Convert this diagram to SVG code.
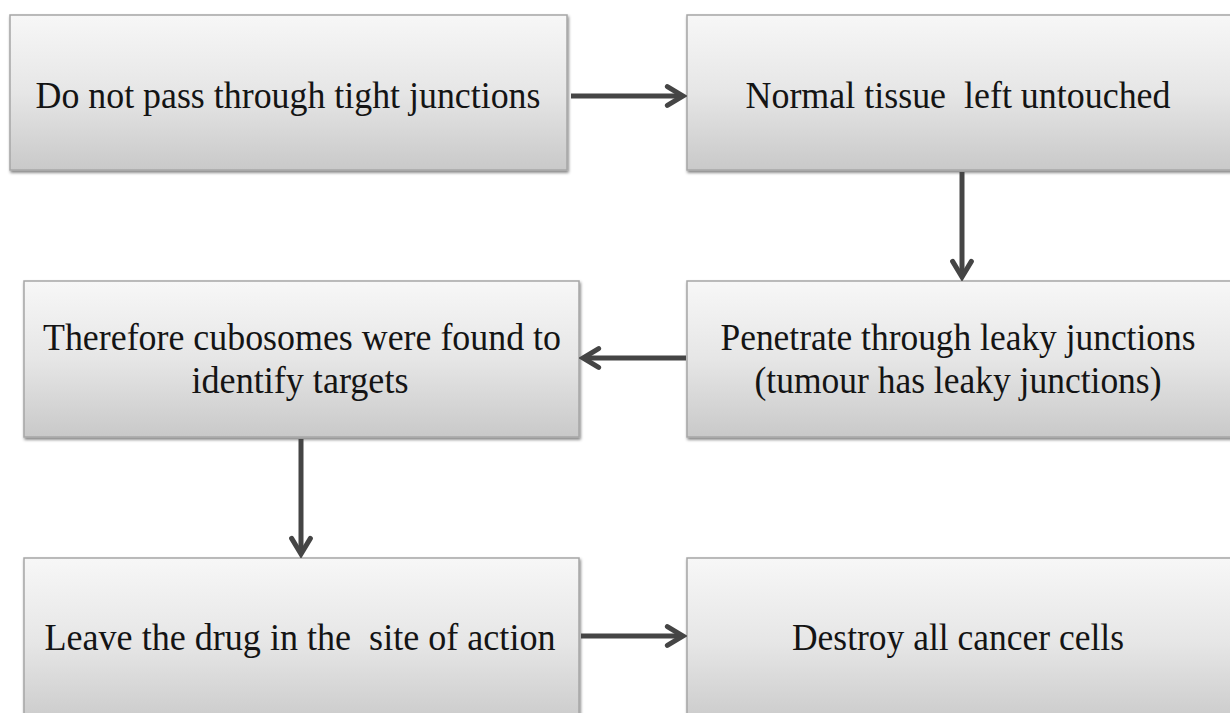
<svg xmlns="http://www.w3.org/2000/svg" width="1230" height="713" viewBox="0 0 1230 713">
<defs>
<linearGradient id="g" x1="0" y1="0" x2="0" y2="1">
<stop offset="0" stop-color="#f7f7f7"/>
<stop offset="0.5" stop-color="#e6e6e6"/>
<stop offset="1" stop-color="#c9c9c9"/>
</linearGradient>
<filter id="sh" x="-5%" y="-5%" width="110%" height="115%">
<feGaussianBlur in="SourceAlpha" stdDeviation="1.5"/>
<feOffset dx="1" dy="2" result="b"/>
<feComponentTransfer><feFuncA type="linear" slope="0.5"/></feComponentTransfer>
<feMerge><feMergeNode/><feMergeNode in="SourceGraphic"/></feMerge>
</filter>
<marker id="ah" viewBox="0 0 12 12" refX="10" refY="6" markerWidth="5" markerHeight="5" orient="auto" markerUnits="strokeWidth">
<path d="M2.5,1.5 L10,6 L2.5,10.5" fill="none" stroke="#454545" stroke-width="2.4" stroke-linecap="round" stroke-linejoin="miter"/>
</marker>
</defs>
<style>
.box{fill:url(#g);stroke:#a6a6a6;stroke-width:1.5;filter:url(#sh)}
.t{font-family:"Liberation Serif","Times New Roman",serif;font-size:37px;fill:#141414;text-anchor:middle}
.c{fill:none;stroke:#454545;stroke-width:5;marker-end:url(#ah)}
</style>
<rect width="1230" height="713" fill="#ffffff"/>
<g id="n1"><rect class="box" x="10" y="15" width="557" height="155"/><text class="t" x="288" y="108" textLength="505" lengthAdjust="spacingAndGlyphs">Do not pass through tight junctions</text></g>
<g id="n2"><rect class="box" x="687" y="15" width="550" height="155"/><text class="t" x="958" y="108" textLength="425" lengthAdjust="spacingAndGlyphs" xml:space="preserve">Normal tissue  left untouched</text></g>
<g id="n3"><rect class="box" x="24" y="281" width="555" height="156"/><text class="t" x="302" y="350" textLength="518" lengthAdjust="spacingAndGlyphs">Therefore cubosomes were found to</text><text class="t" x="300" y="393" textLength="217" lengthAdjust="spacingAndGlyphs">identify targets</text></g>
<g id="n4"><rect class="box" x="687" y="281" width="550" height="156"/><text class="t" x="958" y="350" textLength="475" lengthAdjust="spacingAndGlyphs">Penetrate through leaky junctions</text><text class="t" x="958" y="393" textLength="407" lengthAdjust="spacingAndGlyphs">(tumour has leaky junctions)</text></g>
<g id="n5"><rect class="box" x="24" y="558" width="555" height="170"/><text class="t" x="300" y="650" textLength="511" lengthAdjust="spacingAndGlyphs" xml:space="preserve">Leave the drug in the  site of action</text></g>
<g id="n6"><rect class="box" x="687" y="558" width="550" height="170"/><text class="t" x="958" y="650" textLength="332" lengthAdjust="spacingAndGlyphs">Destroy all cancer cells</text></g>
<g id="connectors">
<line class="c" x1="571" y1="96" x2="683" y2="96"/>
<line class="c" x1="962" y1="172" x2="962" y2="277"/>
<line class="c" x1="686" y1="358" x2="583" y2="358"/>
<line class="c" x1="301" y1="439" x2="301" y2="554"/>
<line class="c" x1="581" y1="636" x2="683" y2="636"/>
</g>
</svg>
